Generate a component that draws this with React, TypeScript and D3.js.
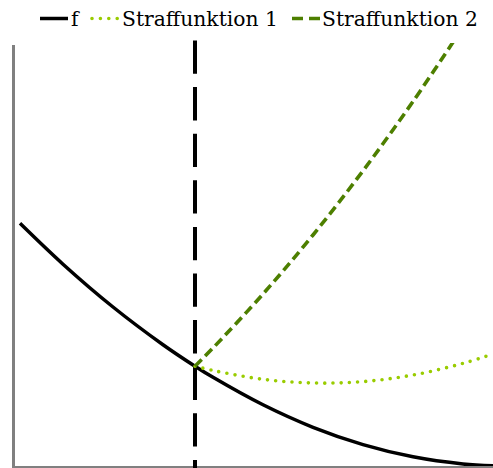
import React from "react";
import * as d3 from "d3";

const W = 493;
const H = 468;

// data (x in arbitrary units, y function values)
const fX = [0.07, 0.5, 1.0, 1.5, 1.82, 2.0, 2.5, 3.0, 3.5, 4.0, 4.5, 4.8];
const fY = [2.427, 2.018, 1.59, 1.213, 0.998, 0.887, 0.612, 0.387, 0.214, 0.092, 0.021, 0.002];

const s1X = [1.82, 2.0, 2.5, 3.0, 3.5, 4.0, 4.5, 4.8];
const s1Y = [0.998, 0.955, 0.867, 0.83, 0.844, 0.91, 1.026, 1.12];

const s2X = [1.82, 2.0, 2.5, 3.0, 3.5, 4.0, 4.5];
const s2Y = [0.998, 1.18, 1.72, 2.31, 2.952, 3.645, 4.389];

const constraintX = 1.82;

const legendLabels = ["f", "Straffunktion 1", "Straffunktion 2"];

export default function App() {
  const x = d3.scaleLinear().domain([0, 4.8]).range([13, 493]);
  const y = d3.scaleLinear().domain([0, 4.21]).range([466, 45]);

  const line = d3
    .line<[number, number]>()
    .x((d) => x(d[0]))
    .y((d) => y(d[1]))
    .curve(d3.curveCatmullRom);

  const zip = (a: number[], b: number[]) => a.map((v, i) => [v, b[i]] as [number, number]);

  return (
    <svg
      width={W}
      height={H}
      style={{ position: "absolute", left: 0, top: 0, background: "#fff" }}
    >
      <defs>
        <clipPath id="plot">
          <rect x={13} y={43} width={W - 13} height={466 - 43} />
        </clipPath>
      </defs>
      {/* axes */}
      <line x1={13.5} x2={13.5} y1={45} y2={468} stroke="#808080" strokeWidth={3} />
      <line x1={12} x2={W} y1={467} y2={467} stroke="#808080" strokeWidth={2} />

      {/* constraint line */}
      <line
        x1={x(constraintX)}
        x2={x(constraintX)}
        y1={40.5}
        y2={468}
        stroke="#000"
        strokeWidth={4}
        strokeDasharray="33.3 13.3"
      />

      <g clipPath="url(#plot)">
        <path d={line(zip(fX, fY)) || ""} fill="none" stroke="#000" strokeWidth={3.5} />
        <path
          d={line(zip(s1X, s1Y)) || ""}
          fill="none"
          stroke="#99cc00"
          strokeWidth={3.6}
          strokeLinecap="round"
          strokeDasharray="0 8.2"
        />
        <path
          d={line(zip(s2X, s2Y)) || ""}
          fill="none"
          stroke="#4d7f00"
          strokeWidth={3.6}
          strokeDasharray="9.5 5"
        />
      </g>

      {/* legend */}
      <g fontFamily="DejaVu Serif" fontSize={20.3}>
        <line x1={40} x2={68} y1={18.5} y2={18.5} stroke="#000" strokeWidth={3.5} />
        <text x={71} y={26}>{legendLabels[0]}</text>
        <line
          x1={92}
          x2={118}
          y1={18.5}
          y2={18.5}
          stroke="#99cc00"
          strokeWidth={3.6}
          strokeLinecap="round"
          strokeDasharray="0 8.4"
        />
        <text x={122} y={26}>{legendLabels[1]}</text>
        <line
          x1={292}
          x2={320}
          y1={18.5}
          y2={18.5}
          stroke="#4d7f00"
          strokeWidth={3.6}
          strokeDasharray="11 6"
        />
        <text x={322} y={26}>{legendLabels[2]}</text>
      </g>
    </svg>
  );
}
